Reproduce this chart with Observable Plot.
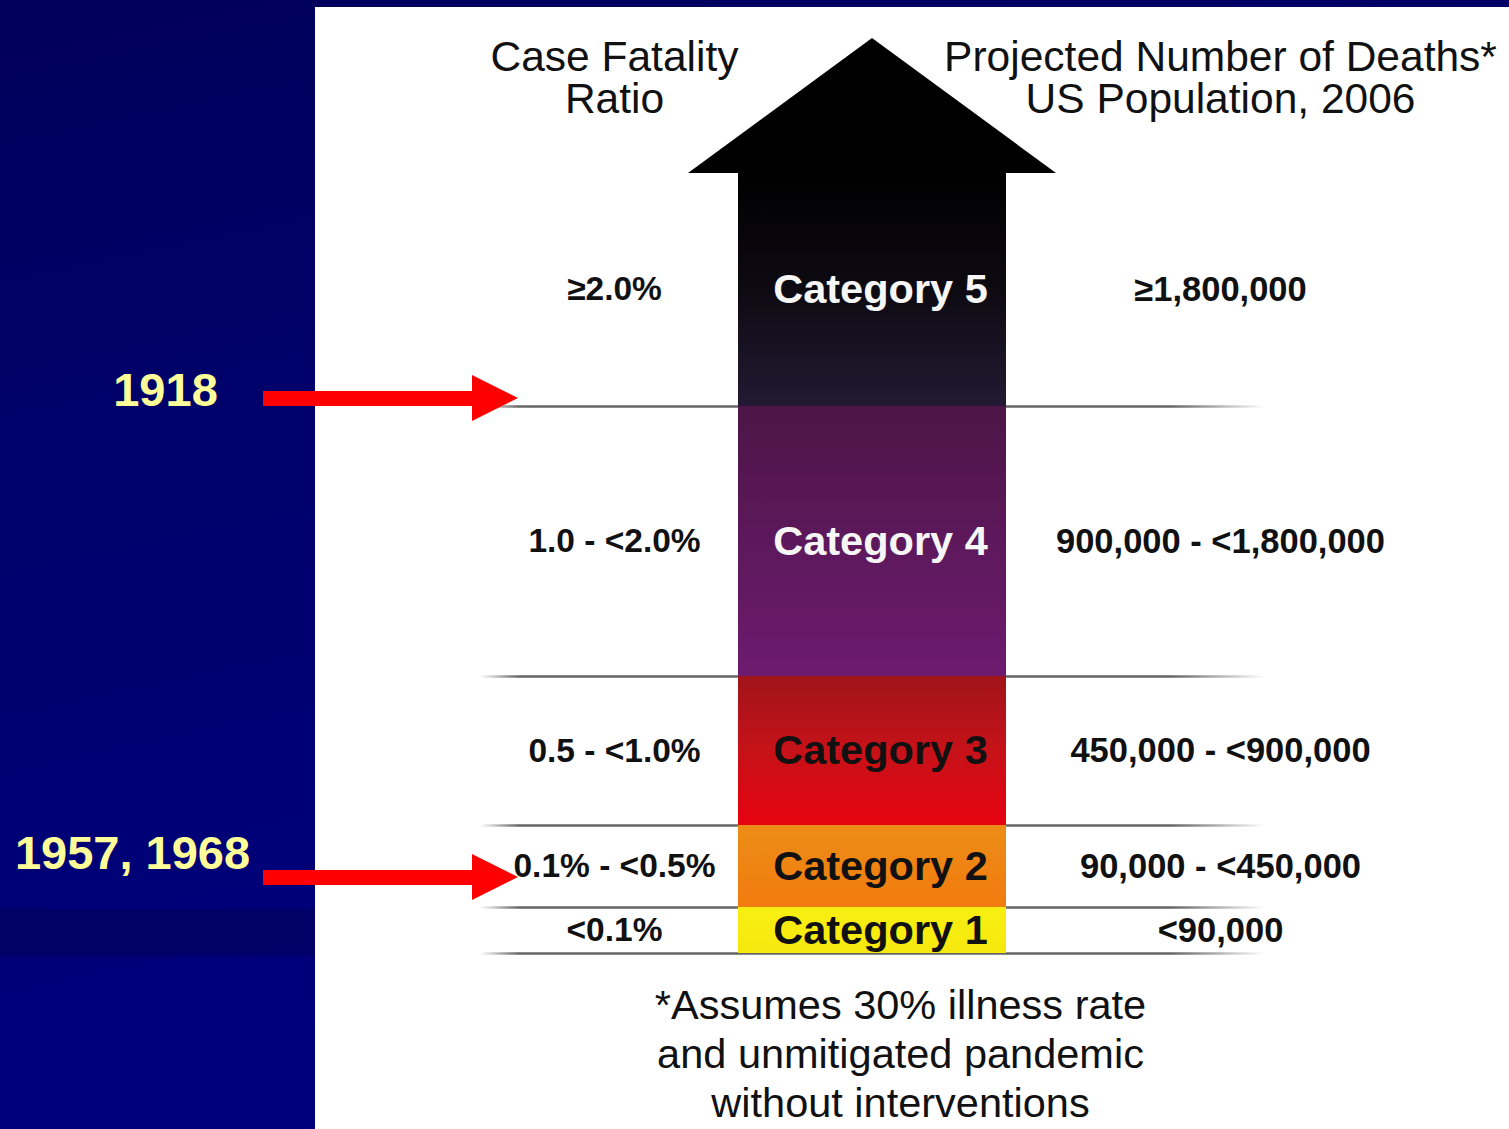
<!DOCTYPE html>
<html>
<head>
<meta charset="utf-8">
<script src="https://cdn.jsdelivr.net/npm/d3@7"></script>
<script src="https://cdn.jsdelivr.net/npm/@observablehq/plot@0.6"></script>
<style>
  html, body { margin: 0; padding: 0; }
  body {
    width: 1509px; height: 1129px; overflow: hidden; position: relative;
    background:
      linear-gradient(to bottom, rgba(0,0,0,0) 908px, rgba(0,0,40,0.22) 910px, rgba(0,0,40,0.22) 955px, rgba(0,0,0,0) 957px),
      linear-gradient(168deg, #00005a 0%, #00006a 30%, #000074 55%, #00007c 75%, #00007e 100%);
  }
  #panel { position: absolute; left: 315px; top: 7px; width: 1194px; height: 1122px; background: #ffffff; }
  #chart { position: absolute; left: 0; top: 0; }
</style>
</head>
<body>
<div id="panel"></div>
<div id="chart"></div>
<script>
// ---------------- data ----------------
const categories = ["Category 1", "Category 2", "Category 3", "Category 4", "Category 5"];
const bandHeights = [46, 82, 149, 270, 234];           // relative heights of the stacked severity bands
const fatalityRatios = ["<0.1%", "0.1% - <0.5%", "0.5 - <1.0%", "1.0 - <2.0%", "≥2.0%"];
const projectedDeaths = ["<90,000", "90,000 - <450,000", "450,000 - <900,000", "900,000 - <1,800,000", "≥1,800,000"];
const columnHeaders = ["Case Fatality\nRatio", "Projected Number of Deaths*\nUS Population, 2006"];
const footnoteLines = ["*Assumes 30% illness rate", "and unmitigated pandemic", "without interventions"];
const pandemicLabels = ["1918", "1957, 1968"];
const pandemicLevels = [555, 76];                      // where each pandemic sits on the severity scale
const arrowHeadHeight = 134;

// ---------------- styling / layout ----------------
const W = 1509, H = 1129;
const bandStops = [
  [["0", "#f8ef12"], ["1", "#f6e80e"]],
  [["0", "#ec8d18"], ["1", "#f27b0e"]],
  [["0", "#a0141a"], ["0.5", "#c61219"], ["1", "#e6020f"]],
  [["0", "#4d1547"], ["1", "#6d1b6f"]],
  [["0", "#000000"], ["0.5", "#0d0a12"], ["1", "#221a32"]]
];
const L = {
  ratioX: 614, deathsX: 1220, catX: 880,
  arrowL: 738, arrowR: 1006, headL: 688, headR: 1056,
  ruleL: 480, ruleR: 1265,
  footX: 900,
  redStart: 263, redHead: 472, redTip: 518, redHalf: 23
};

const rows = categories.map((c, i) => ({
  idx: i, category: c, h: bandHeights[i], ratio: fatalityRatios[i], deaths: projectedDeaths[i]
}));
const total = d3.sum(bandHeights);
const boundaries = [0, ...Array.from(d3.cumsum(bandHeights)).slice(0, -1)];
const headPts = [
  {x: L.headL, y1: total - 1, y2: total - 1},
  {x: (L.arrowL + L.arrowR) / 2, y1: total - 1, y2: total + arrowHeadHeight},
  {x: L.headR, y1: total - 1, y2: total - 1}
];
const pandemics = pandemicLabels.map((label, i) => ({label, level: pandemicLevels[i]}));
const redHeads = pandemics.flatMap(p => [
  {label: p.label, y: p.level + L.redHalf, x1: L.redHead, x2: L.redHead},
  {label: p.label, y: p.level, x1: L.redHead, x2: L.redTip},
  {label: p.label, y: p.level - L.redHalf, x1: L.redHead, x2: L.redHead}
]);

const font = "'Liberation Sans', Arial, Helvetica, sans-serif";

const plot = Plot.plot({
  width: W, height: H,
  margin: 0,
  x: {domain: [0, W], range: [0, W], axis: null},
  y: {domain: [-176, 953], range: [H, 0], axis: null},
  color: {type: "identity"},
  style: {background: "transparent", fontFamily: font, overflow: "visible"},
  marks: [
    // separators
    Plot.ruleY(boundaries, {x1: () => L.ruleL, x2: () => L.ruleR, stroke: "url(#ruleFade)", strokeWidth: 2.6}),
    // arrow head
    Plot.areaY(headPts, {x: "x", y1: "y1", y2: "y2", fill: "#000000", curve: "linear"}),
    // stacked severity bands
    Plot.rect(rows, Plot.stackY({
      x1: () => L.arrowL, x2: () => L.arrowR, y: "h",
      fill: d => `url(#band${d.idx})`
    })),
    // column headers
    Plot.text(columnHeaders, {
      x: (d, i) => [L.ratioX, L.deathsX][i], frameAnchor: "top", dy: 78,
      text: d => d, fontSize: 42.5, lineHeight: 1.0, lineAnchor: "middle", fill: "#111"
    }),
    // row labels
    Plot.text(rows, Plot.stackY({
      x: () => L.ratioX, y: "h", text: "ratio",
      fontSize: 33.5, fontWeight: "bold", fill: "#111"
    })),
    Plot.text(rows, Plot.stackY({
      x: () => L.catX, y: "h", text: "category",
      fontSize: 41.5, fontWeight: "bold", fill: d => d.idx >= 3 ? "#f6f6f6" : "#111"
    })),
    Plot.text(rows, Plot.stackY({
      x: () => L.deathsX, y: "h", text: "deaths",
      fontSize: 34.5, fontWeight: "bold", fill: "#111"
    })),
    // footnote
    Plot.text([footnoteLines.join("\n")], {
      x: () => L.footX, frameAnchor: "top", dy: 1052,
      text: d => d, fontSize: 41.5, lineHeight: 1.18, lineAnchor: "middle", fill: "#111"
    }),
    // pandemic pointers
    Plot.ruleY(pandemics, {y: "level", x1: () => L.redStart, x2: () => L.redHead + 2, stroke: "#ff0000", strokeWidth: 15}),
    Plot.areaX(redHeads, {y: "y", x1: "x1", x2: "x2", z: "label", fill: "#ff0000", curve: "linear"}),
    Plot.text(pandemics.slice(0, 1), {
      x: () => 165, y: "level", dy: -8, text: "label",
      fontSize: 47, fontWeight: "bold", fill: "#ffff99"
    }),
    Plot.text(pandemics.slice(1, 2), {
      x: () => 132, y: "level", dy: -24, text: "label",
      fontSize: 47, fontWeight: "bold", fill: "#ffff99"
    })
  ]
});

// gradient definitions
const svg = d3.select(plot);
const defs = svg.insert("defs", ":first-child");
bandStops.forEach((stops, i) => {
  const g = defs.append("linearGradient").attr("id", `band${i}`)
    .attr("x1", 0).attr("y1", 0).attr("x2", 0).attr("y2", 1);
  stops.forEach(([o, c]) => g.append("stop").attr("offset", o).attr("stop-color", c));
});
const rf = defs.append("linearGradient").attr("id", "ruleFade")
  .attr("gradientUnits", "userSpaceOnUse")
  .attr("x1", L.ruleL).attr("y1", 0).attr("x2", L.ruleR).attr("y2", 0);
[["0", 0], ["0.05", 0.85], ["0.88", 0.85], ["1", 0]].forEach(([o, a]) =>
  rf.append("stop").attr("offset", o).attr("stop-color", "#4a4a4a").attr("stop-opacity", a));

document.getElementById("chart").appendChild(plot);
</script>
</body>
</html>
